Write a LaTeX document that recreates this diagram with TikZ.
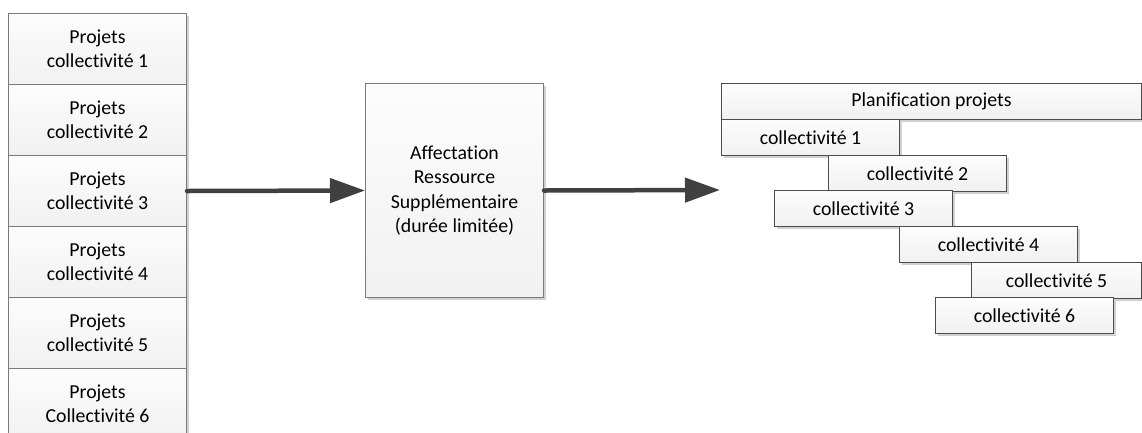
\documentclass[tikz,border=0pt]{standalone}
\usepackage{fontspec}
\setmainfont{Carlito}[Ligatures={NoCommon,NoRare}]
\usetikzlibrary{arrows.meta,shadows}

\begin{document}
\begin{tikzpicture}[x=1pt,y=-1pt,
    box/.style={draw=black!52, line width=1pt, anchor=north west,
      top color=gray!2, bottom color=gray!11, inner sep=0pt,
      align=center, font=\fontsize{19.8}{24.2}\selectfont,
      drop shadow={shadow xshift=2.5pt, shadow yshift=-2.5pt, fill=black!18, opacity=1}},
    projbox/.style={box, minimum width=178pt, minimum height=71pt},
    barbox/.style={box, draw=black!70, minimum width=178pt, minimum height=35.5pt},
    flow/.style={draw=black!75, line width=4.5pt, line cap=round,
      -{Triangle[length=35pt,width=24pt]}}]
    \clip (0,0) rectangle (1142,432);
    \fill[white] (0,0) rectangle (1142,432);
    % Projects column
    \node[projbox] (P1) at (8,13) {Projets\\collectivité 1};
    \node[projbox] (P2) at (8,84) {Projets\\collectivité 2};
    \node[projbox] (P3) at (8,155) {Projets\\collectivité 3};
    \node[projbox] (P4) at (8,226) {Projets\\collectivité 4};
    \node[projbox] (P5) at (8,297) {Projets\\collectivité 5};
    \node[projbox] (P6) at (8,368) {Projets\\Collectivité 6};
    % Resource allocation
    \node[box, minimum width=178pt, minimum height=214pt] (Aff) at (365,83)
      {Affectation\\Ressource\\Supplémentaire\\(durée limitée)};
    % Planning
    \node[barbox, minimum width=420pt, minimum height=36pt] (Plan) at (721,83) {Planification projets};
    \node[barbox] (C1) at (721,119) {collectivité 1};
    \node[barbox] (C2) at (828,155) {collectivité 2};
    \node[barbox] (C3) at (774,190) {collectivité 3};
    \node[barbox] (C4) at (899,226) {collectivité 4};
    \node[barbox, minimum width=170pt] (C5) at (971,262) {collectivité 5};
    \node[barbox] (C6) at (935,297) {collectivité 6};
    \coordinate (tip) at (720,190);
    % Arrows
    \draw[flow] (P3.east) -- (Aff.west);
    \draw[flow] (Aff.east) -- (tip);
\end{tikzpicture}
\end{document}
